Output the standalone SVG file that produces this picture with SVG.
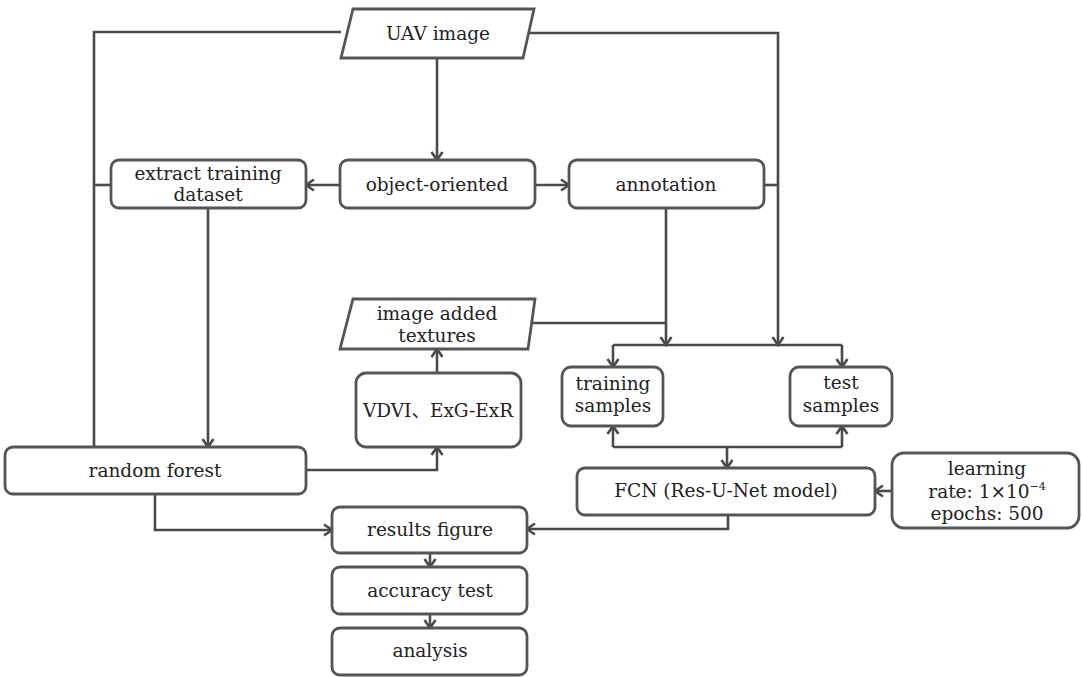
<svg xmlns="http://www.w3.org/2000/svg" width="1082" height="677" viewBox="0 0 1082 677">
<style>
.box{fill:#fff;stroke:#555;stroke-width:2.8}
.t{font-family:"DejaVu Serif","Liberation Serif","Noto Sans CJK SC",serif;font-size:18.5px;fill:#222;text-anchor:middle}
.c{fill:none;stroke:#4a4a4a;stroke-width:2.6}
.a{marker-end:url(#arr)}
</style>
<defs>
<marker id="arr" markerUnits="userSpaceOnUse" markerWidth="14" markerHeight="14" viewBox="0 0 14 14" refX="12" refY="7" orient="auto">
<path d="M4,1.5 L12,7 L4,12.5" fill="none" stroke="#4a4a4a" stroke-width="2.6"/>
</marker>
</defs>
<rect width="1082" height="677" fill="#fff"/>
<g id="connectors">
<path class="c" d="M341,32 H94 V447"/>
<path class="c" d="M94,185 H111"/>
<path class="c a" d="M208,209 V447"/>
<path class="c a" d="M437,58 V160"/>
<path class="c a" d="M340,185 H306"/>
<path class="c a" d="M535,185 H569"/>
<path class="c" d="M764,185 H778"/>
<path class="c a" d="M528,33 H778 V345"/>
<path class="c a" d="M666,208 V345"/>
<path class="c" d="M531,323 H666"/>
<path class="c" d="M613,345 H842"/>
<path class="c a" d="M613,345 V367"/>
<path class="c a" d="M842,345 V367"/>
<path class="c a" d="M613,447 V426"/>
<path class="c a" d="M842,447 V426"/>
<path class="c" d="M613,447 H842"/>
<path class="c a" d="M727,447 V468"/>
<path class="c a" d="M437,373 V349"/>
<path class="c a" d="M306,470 H437 V447"/>
<path class="c a" d="M155,494 V530 H332"/>
<path class="c a" d="M728,515 V529 H527"/>
<path class="c a" d="M892,491 H875"/>
<path class="c a" d="M430,553 V567"/>
<path class="c a" d="M430,614 V628"/>
</g>
<g id="uav-image">
<polygon class="box" points="353,9 534,9 523,58 341,58"/>
<text class="t" x="438" y="40">UAV image</text>
</g>
<g id="extract-training">
<rect class="box" x="111" y="160" width="195" height="48" rx="8"/>
<text class="t" x="208" y="180">extract training</text>
<text class="t" x="208" y="201">dataset</text>
</g>
<g id="object-oriented">
<rect class="box" x="340" y="160" width="195" height="48" rx="8"/>
<text class="t" x="437" y="191">object-oriented</text>
</g>
<g id="annotation">
<rect class="box" x="569" y="160" width="195" height="48" rx="8"/>
<text class="t" x="666" y="191">annotation</text>
</g>
<g id="image-added-textures">
<polygon class="box" points="353,299 535,299 528,349 340,349"/>
<text class="t" x="437" y="320">image added</text>
<text class="t" x="437" y="342">textures</text>
</g>
<g id="vdvi">
<rect class="box" x="356" y="373" width="165" height="74" rx="10"/>
<text class="t" x="438" y="417">VDVI、ExG-ExR</text>
</g>
<g id="training-samples">
<rect class="box" x="562" y="367" width="101" height="59" rx="9"/>
<text class="t" x="613" y="390">training</text>
<text class="t" x="613" y="412">samples</text>
</g>
<g id="test-samples">
<rect class="box" x="790" y="367" width="102" height="59" rx="9"/>
<text class="t" x="841" y="389">test</text>
<text class="t" x="841" y="412">samples</text>
</g>
<g id="random-forest">
<rect class="box" x="5" y="447" width="301" height="47" rx="8"/>
<text class="t" x="155" y="477">random forest</text>
</g>
<g id="fcn">
<rect class="box" x="577" y="468" width="298" height="47" rx="8"/>
<text class="t" x="726" y="497">FCN (Res-U-Net model)</text>
</g>
<g id="learning">
<rect class="box" x="892" y="453" width="187" height="75" rx="12"/>
<text class="t" x="987" y="475">learning</text>
<text class="t" x="987" y="498">rate: 1×10<tspan font-size="11" dy="-8">−4</tspan></text>
<text class="t" x="987" y="520">epochs: 500</text>
</g>
<g id="results-figure">
<rect class="box" x="332" y="507" width="195" height="46" rx="8"/>
<text class="t" x="430" y="536">results figure</text>
</g>
<g id="accuracy-test">
<rect class="box" x="332" y="567" width="195" height="47" rx="8"/>
<text class="t" x="430" y="597">accuracy test</text>
</g>
<g id="analysis">
<rect class="box" x="332" y="628" width="195" height="47" rx="8"/>
<text class="t" x="430" y="657">analysis</text>
</g>
</svg>
